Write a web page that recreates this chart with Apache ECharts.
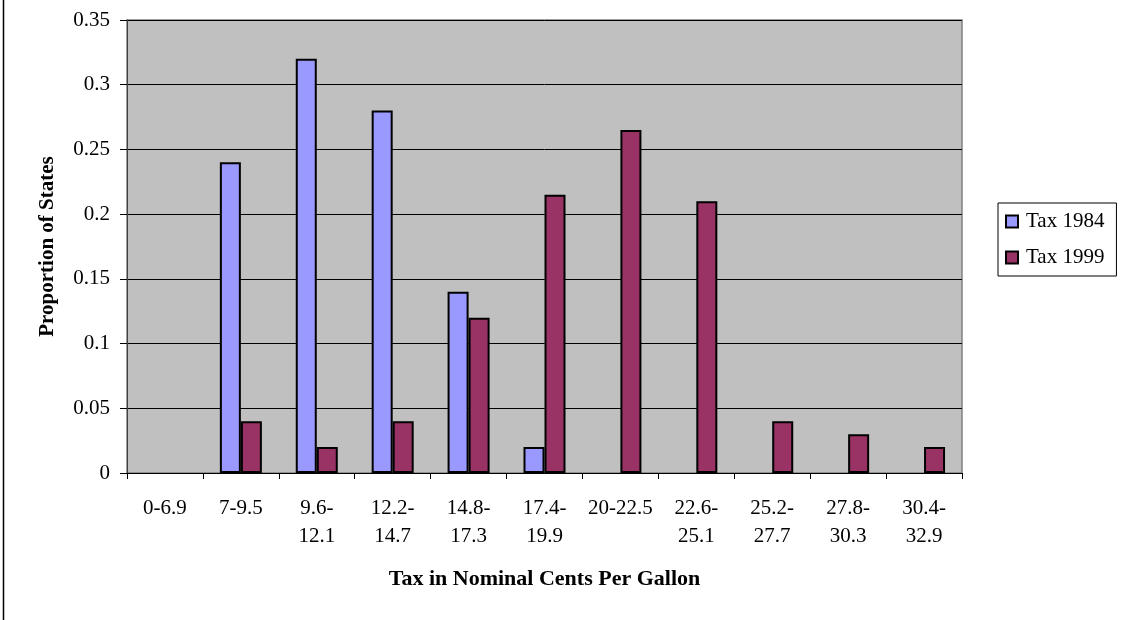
<!DOCTYPE html>
<html>
<head>
<meta charset="utf-8">
<script src="https://cdn.jsdelivr.net/npm/echarts@6/dist/echarts.min.js"></script>
<style>
  html, body { margin: 0; padding: 0; background: #fff; }
  #chart { width: 1130px; height: 620px; }
</style>
</head>
<body>
<div id="chart"></div>
<script>
const categories = ['0-6.9', '7-9.5', '9.6-\n12.1', '12.2-\n14.7', '14.8-\n17.3', '17.4-\n19.9',
  '20-22.5', '22.6-\n25.1', '25.2-\n27.7', '27.8-\n30.3', '30.4-\n32.9'];
const tax1984 = [0, 0.24, 0.32, 0.28, 0.14, 0.02, 0, 0, 0, 0, 0];
const tax1999 = [0, 0.04, 0.02, 0.04, 0.12, 0.215, 0.265, 0.21, 0.04, 0.03, 0.02];

// zero bars are not drawn at all in the original
const noZero = arr => arr.map(v => (v === 0 ? '-' : v));

const font = 'Liberation Serif';
const chart = echarts.init(document.getElementById('chart'));

chart.setOption({
  animation: false,
  textStyle: { fontFamily: font, color: '#000' },
  graphic: [{
    type: 'line',
    shape: { x1: 3.5, y1: 0, x2: 3.5, y2: 620 },
    style: { stroke: '#000', lineWidth: 1.5 },
  }],
  grid: {
    left: 127,
    right: 168,
    top: 20,
    bottom: 147,
    show: true,
    backgroundColor: '#c0c0c0',
    borderColor: '#808080',
    borderWidth: 1.5,
  },
  legend: {
    orient: 'vertical',
    left: 998,
    top: 203,
    padding: [8, 12, 8, 7],
    itemGap: 15,
    itemWidth: 12,
    itemHeight: 12,
    borderColor: '#000',
    borderWidth: 1,
    backgroundColor: '#fff',
    icon: 'rect',
    textStyle: { fontFamily: font, fontSize: 21, color: '#000', padding: [0, 0, 0, 3] },
    data: ['Tax 1984', 'Tax 1999'],
  },
  xAxis: {
    type: 'category',
    data: categories,
    name: 'Tax in Nominal Cents Per Gallon',
    nameLocation: 'middle',
    nameGap: 95,
    nameTextStyle: { fontFamily: font, fontSize: 22, fontWeight: 'bold', color: '#000' },
    axisLine: { lineStyle: { color: '#000', width: 1 } },
    axisTick: { show: true, length: 6, lineStyle: { color: '#000' } },
    axisLabel: {
      fontFamily: font, fontSize: 21, color: '#000', margin: 21, lineHeight: 28,
      interval: 0,
    },
  },
  yAxis: {
    type: 'value',
    min: 0,
    max: 0.35,
    interval: 0.05,
    name: 'Proportion of States',
    nameLocation: 'middle',
    nameGap: 69,
    nameTextStyle: { fontFamily: font, fontSize: 21, fontWeight: 'bold', color: '#000' },
    axisLine: { show: true, lineStyle: { color: '#404040', width: 1 } },
    axisTick: { show: true, length: 7, lineStyle: { color: '#000' } },
    axisLabel: {
      fontFamily: font, fontSize: 21, color: '#000', margin: 17,
      formatter: (v) => String(Number(v.toFixed(2))),
    },
    splitLine: { lineStyle: { color: '#000', width: 1 } },
  },
  series: [{
    name: 'Tax 1984',
    type: 'bar',
    data: noZero(tax1984),
    barWidth: 21,
    barGap: '0%',
    itemStyle: { color: '#9999ff', borderColor: '#000', borderWidth: 2 },
  }, {
    name: 'Tax 1999',
    type: 'bar',
    data: noZero(tax1999),
    barWidth: 21,
    barGap: '0%',
    itemStyle: { color: '#993366', borderColor: '#000', borderWidth: 2 },
  }],
});
</script>
</body>
</html>
